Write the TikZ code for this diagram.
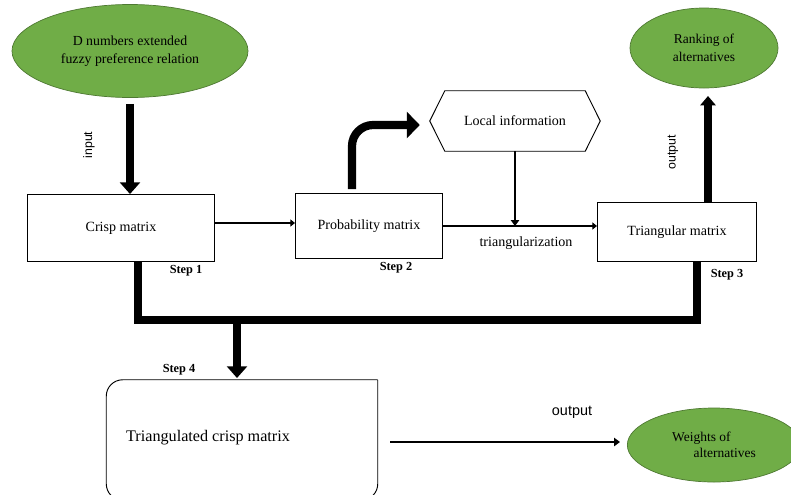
\documentclass[tikz,border=0pt]{standalone}
\usepackage{fontspec}
\setmainfont{Liberation Serif}
\setsansfont{Liberation Sans}
\usetikzlibrary{arrows.meta,calc,shapes.geometric}
\definecolor{leafgreen}{RGB}{112,173,71}
\begin{document}
\begin{tikzpicture}[
    x=0.03cm, y=-0.03cm,
    blob/.style={ellipse, draw=leafgreen!70!black, fill=leafgreen, line width=0.6pt,
      inner sep=0pt, align=center, font=\fontsize{11.8}{15}\selectfont},
    box/.style={rectangle, draw, line width=0.8pt, font=\fontsize{12}{14}\selectfont},
    steplabel/.style={font=\fontsize{10.5}{12}\selectfont\bfseries},
    sidelabel/.style={font=\sffamily\fontsize{10.5}{12}\selectfont},
    fat/.style={line width=7pt},
    fatarrow/.style={fat, -{Triangle[length=10pt,width=17pt]}},
    thinarrow/.style={line width=1.8pt, -{Triangle[length=4pt,width=6pt]}}]
  \useasboundingbox (0,0) rectangle (791,494);
  % inputs and outputs
  \node[blob, minimum width=7.08cm, minimum height=2.79cm] (dnum) at (130,51)
    {D numbers extended\\fuzzy preference relation};
  \node[blob, minimum width=4.44cm, minimum height=2.4cm, font=\fontsize{11.5}{15}\selectfont] (rank) at (704,48)
    {Ranking of\\alternatives};
  \node[blob, minimum width=5.2cm, minimum height=2.22cm, align=left, font=\fontsize{11.5}{14}\selectfont] (weights) at (714,445)
    {Weights of\\\hspace*{1.6em}alternatives};
  % matrices
  \node[box, minimum width=5.61cm, minimum height=2.01cm] (crisp) at (121,228) {Crisp matrix};
  \node[box, minimum width=4.41cm, minimum height=1.95cm] (prob) at (369,226) {Probability matrix};
  \node[box, minimum width=4.77cm, minimum height=1.77cm] (tri) at (677,232) {Triangular matrix};
  \node[minimum width=5.1cm, minimum height=1.8cm, font=\fontsize{12}{14}\selectfont] (local) at (515,121) {Local information};
  \draw[line width=0.8pt] (local.west) -- ($(local.north west)+(15,0)$)
    -- ($(local.north east)+(-15,0)$) -- (local.east) -- ($(local.south east)+(-15,0)$)
    -- ($(local.south west)+(15,0)$) -- cycle;
  \node[minimum width=8.13cm, minimum height=3.6cm] (tcm) at (242,440) {};
  \node[font=\fontsize{13.8}{16}\selectfont, anchor=west] (tcmtext) at (122,438) {Triangulated crisp matrix};
  \draw[line width=0.8pt, rounded corners=14pt] (tcm.north east) -- (tcm.north west)
    -- (tcm.south west) -- (tcm.south east) [sharp corners] -- (tcm.north east);
  % connectors
  \coordinate (uptop) at (708,96);
  \coordinate (upbot) at (708,203);
  \coordinate (downtop) at (237,324);
  \coordinate (downbot) at (237,378);
  \coordinate (outl) at (390,442);
  \coordinate (outr) at (620,442);
  \coordinate (busl) at (138,320);
  \coordinate (busr) at (697,320);
  \coordinate (link) at ($(prob.west)+(0,-3)$);
  \draw[fatarrow] ($(dnum.south)+(0,6)$) -- (dnum.south |- crisp.north);
  \draw[thinarrow] (crisp.east |- link) -- (link);
  \draw[thinarrow] (prob.east) -- (prob.east -| tri.west);
  \draw[line width=1.6pt, -{Triangle[length=5pt,width=7pt]}] (local.south) -- (local.south |- prob.east);
  \draw[fat, rounded corners=18pt, -{Triangle[length=11pt,width=22pt]}]
    ($(prob.north)+(-17,-4)$) |- ($(local.west)+(-10,4)$);
  \draw[fat, -{Triangle[length=8pt,width=13pt]}] (upbot) -- (uptop);
  \draw[fat] ($(crisp.south)+(17,0)$) |- (busl) -- (busr) -- ($(tri.south)+(20,0)$);
  \draw[fatarrow] (downtop) -- (downbot);
  \draw[line width=2pt, -{Triangle[length=5pt,width=7pt]}] (outl) -- (outr);
  % labels
  \node[steplabel] (s1) at (186,271) {Step 1};
  \node[steplabel] (s2) at (396,268) {Step 2};
  \node[steplabel] (s3) at (727,275) {Step 3};
  \node[steplabel] (s4) at (179,370) {Step 4};
  \node[font=\fontsize{12}{14}\selectfont] (trz) at (526,243) {triangularization};
  \node[sidelabel, rotate=90] (inp) at (89,145) {input};
  \node[sidelabel, rotate=90] (out1) at (673,152) {output};
  \node[sidelabel, font=\sffamily\fontsize{12.3}{14}\selectfont] (out2) at (572,412) {output};
\end{tikzpicture}
\end{document}
